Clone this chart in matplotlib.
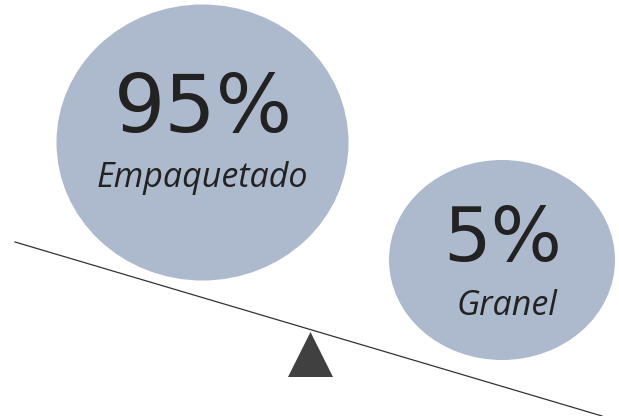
import matplotlib
matplotlib.use("Agg")
import matplotlib.pyplot as plt
from matplotlib.patches import Ellipse, Polygon

# data
labels = ["Empaquetado", "Granel"]
shares = [95, 5]

bubble_color = "#adb9cc"
text_color = "#222222"

fig = plt.figure(figsize=(6.19, 4.16), dpi=100)
ax = fig.add_axes([0, 0, 1, 1])
ax.set_xlim(0, 619)
ax.set_ylim(416, 0)
ax.axis("off")

# balance beam
ax.plot([15, 602], [242, 416], color="#333333", lw=0.9, zorder=1)
ax.add_patch(Polygon([[288, 377], [333, 377], [310.5, 332]], closed=True,
                     facecolor="#404040", edgecolor="none", zorder=2))

# bubbles: (center x, center y, width, height)
bubbles = [(202.5, 142.5, 292, 276), (502, 260, 226, 200)]
num_size = [58, 54]
num_y = [110, 240]
lab_dx = [0, 5]
lab_y = [178, 306]

for (cx, cy, w, h), lab, val, ns, ny, dx, ly in zip(bubbles, labels, shares, num_size, num_y, lab_dx, lab_y):
    ax.add_patch(Ellipse((cx, cy), w, h, facecolor=bubble_color,
                         edgecolor="none", zorder=3))
    ax.text(cx + 1, ny, f"{val}%", ha="center", va="center", fontsize=ns,
            family="DejaVu Sans", color=text_color, zorder=4)
    ax.text(cx + dx, ly, lab, ha="center", va="center", fontsize=24.5,
            family="Open Sans", style="italic", color=text_color, zorder=4)

fig.savefig("out.png", dpi=100)
